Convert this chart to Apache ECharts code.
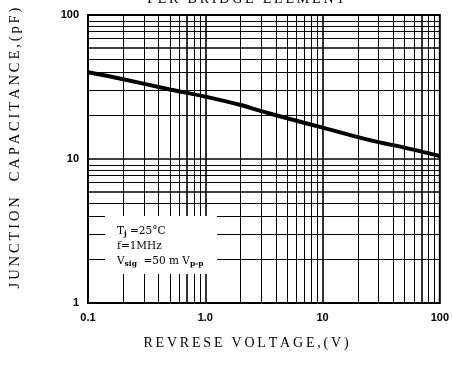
<!DOCTYPE html>
<html><head><meta charset="utf-8">
<script src="https://cdn.jsdelivr.net/npm/echarts@6/dist/echarts.min.js"></script>
<style>html,body{margin:0;padding:0;background:#fff}#c{width:452px;height:375px}</style>
</head><body><div id="c"></div>
<script>
// Data
const voltage = [0.1, 0.2, 0.5, 1, 2, 3, 5, 10, 20, 30, 50, 100];
const capacitance = [40, 35.8, 30.4, 27.1, 23.7, 21.5, 19.2, 16.5, 14.2, 13.1, 12.0, 10.5];
const xTickLabels = { '0.1': '0.1', '1': '1.0', '10': '10', '100': '100' };
const yTickLabels = { '1': '1', '10': '10', '100': '100' };
// grid lines
const xGridThin = [0.2,0.3,0.4,0.5,0.6,0.8,0.9,2,3,4,5,6,7,8,9,20,30,40,50,60,80,90];
const xGridThick = [0.7, 1, 10, 70];
const yGridThin = [2,3,4,4.9,6.9,7.7,8.3,9,20,30,40,49,69,77,83,90];
const yGridThick = [5.9, 10, 59];

const chart = echarts.init(document.getElementById('c'), null, { renderer: 'canvas' });
const lineMarks = [];
xGridThin.forEach(v => lineMarks.push({ xAxis: v, lineStyle: { width: 1 } }));
xGridThick.forEach(v => lineMarks.push({ xAxis: v, lineStyle: { width: 1.6 } }));
yGridThin.forEach(v => lineMarks.push({ yAxis: v, lineStyle: { width: 1 } }));
yGridThick.forEach(v => lineMarks.push({ yAxis: v, lineStyle: { width: 1.6 } }));

const spread = s => s.split('').join('\u2009');
const serif = '"Liberation Serif","DejaVu Serif",serif';
const dserif = '"DejaVu Serif","Liberation Serif",serif';
chart.setOption({
  animation: false,
  backgroundColor: '#fff',
  grid: { left: 88, right: 9, top: 15, bottom: 72, show: true, borderColor: '#000', borderWidth: 2, backgroundColor: 'transparent' },
  xAxis: {
    type: 'log', logBase: 10, min: 0.1, max: 100,
    axisLine: { show: false }, axisTick: { show: false }, splitLine: { show: false }, minorSplitLine: { show: false },
    axisLabel: { margin: 9, color: '#000', fontFamily: '"Liberation Sans",Arial,sans-serif', fontWeight: 'bold', fontSize: 11,
      formatter: v => { const k = String(+v.toPrecision(3)); return xTickLabels[k] !== undefined ? xTickLabels[k] : ''; } }
  },
  yAxis: {
    type: 'log', logBase: 10, min: 1, max: 100,
    axisLine: { show: false }, axisTick: { show: false }, splitLine: { show: false },
    axisLabel: { margin: 9, color: '#000', fontFamily: '"Liberation Sans",Arial,sans-serif', fontWeight: 'bold', fontSize: 11,
      formatter: v => { const k = String(+v.toPrecision(3)); return yTickLabels[k] !== undefined ? yTickLabels[k] : ''; } }
  },
  series: [
    { type: 'line', data: [], markLine: { silent: true, symbol: 'none', label: { show: false }, lineStyle: { color: '#000', type: 'solid' }, data: lineMarks }, z: 1 },
    { type: 'line', smooth: 0.3, showSymbol: false, data: voltage.map((v, i) => [v, capacitance[i]]),
      lineStyle: { color: '#000', width: 4 }, z: 5 }
  ],
  graphic: [
    { type: 'rect', left: 105, top: 216, shape: { width: 112, height: 58 }, style: { fill: '#fff' }, z: 50 },
    { type: 'text', left: 117, top: 224, z: 60, style: {
        text: 'T{s|j} =25°C\nf=1MHz\nV{s|sig}  =50 m V{s|p-p}', lineHeight: 15,
        font: '10.5px ' + dserif, fill: '#000',
        rich: { s: { font: 'bold 7.5px ' + dserif, fill: '#000', padding: [5, 0, 0, 0] } } } },
    { type: 'text', x: 246, y: 6, z: 60, style: { text: spread('PER BRIDGE ELEMENT'), font: '14px ' + serif, fill: '#000', textAlign: 'center', textVerticalAlign: 'bottom' } },
    { type: 'text', x: 246, y: 343, z: 60, style: { text: spread('REVRESE VOLTAGE,(V)'), font: '14px ' + serif, fill: '#000', textAlign: 'center', textVerticalAlign: 'middle' } },
    { type: 'text', x: 15, y: 148, rotation: Math.PI / 2, z: 60, style: { text: spread('JUNCTION  CAPACITANCE,(pF)'), font: '14.5px ' + serif, fill: '#000', textAlign: 'center', textVerticalAlign: 'middle' } }
  ]
});
</script></body></html>
